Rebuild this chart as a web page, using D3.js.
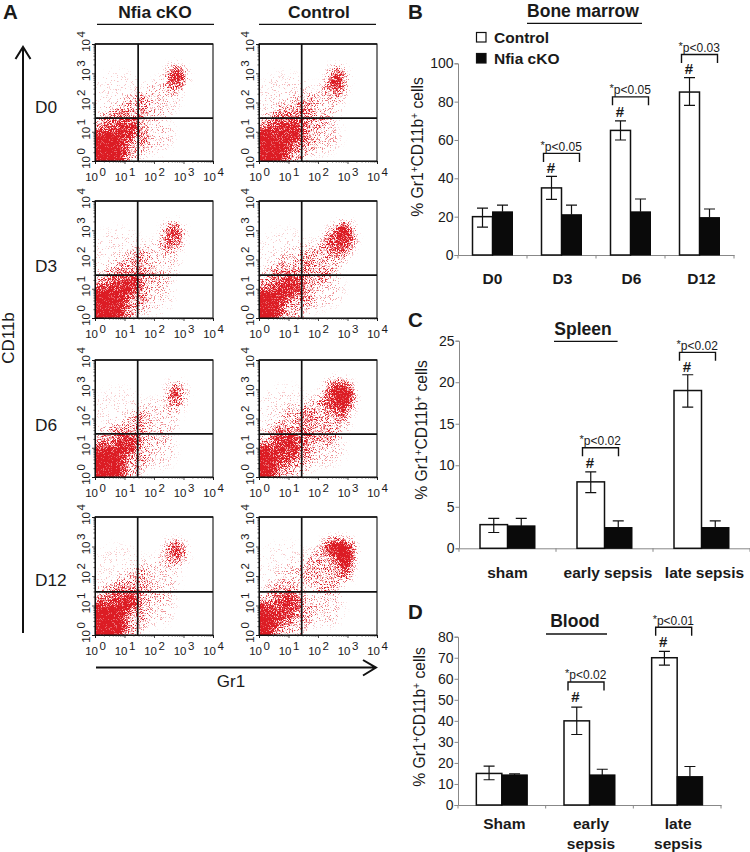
<!DOCTYPE html>
<html><head><meta charset="utf-8">
<script src="https://cdn.jsdelivr.net/npm/d3@7/dist/d3.min.js"></script>
<style>
html,body{margin:0;padding:0;background:#fff}
svg{display:block}
text{font-family:"Liberation Sans",Arial,sans-serif;fill:#1a1a1a}
</style></head><body>
<svg id="c" width="750" height="852" xmlns="http://www.w3.org/2000/svg"></svg>
<script>
/* ---------- Panel A: flow cytometry. Density regions:
   [log10 Gr1, log10 CD11b, radius Gr1, radius CD11b, tilt deg, density] */
const days = ["D0","D3","D6","D12"];
const groups = ["Nfia cKO","Control"];
const gateNfia = [[29,29],[28,29],[28,30],[28,29]];       // [Gr1, CD11b] gates
const gateControl = [[28,29],[28,29],[28,29],[28,29]];
const logTicks = [1,10,100,1000,10000];
const minorTicks = [2,3,4,5,6,7,8,9,20,30,40,50,60,70,80,90,200,300,400,500,600,700,800,900,2000,3000,4000,5000,6000,7000,8000,9000];

const densD0Nfia = [[0.2,0.25,0.85,0.85,0,1],[1,0.95,0.5,0.32,40,0.8],[0.75,0.7,1.05,1,0,0.45],[1.15,1.6,0.85,0.55,45,0.3],[0.8,2.1,1,1,0,0.16],[2.1,0.9,0.6,0.65,0,0.27],[2.15,2.1,0.85,0.65,40,0.3],[2.75,2.85,0.36,0.48,0,0.7],[2.8,2.9,0.22,0.3,0,0.6]];
const densD3Nfia = [[0.2,0.25,0.85,0.85,0,1],[1.05,1,0.5,0.32,40,0.8],[0.75,0.7,1.05,1,0,0.45],[1.15,1.6,0.85,0.55,45,0.33],[0.8,2.1,1,1,0,0.17],[2.05,0.85,0.6,0.7,0,0.28],[2.1,1.9,0.8,0.75,50,0.3],[2.65,2.8,0.38,0.52,0,0.7],[2.65,3,0.22,0.22,0,0.6]];
const densD6Nfia = [[0.2,0.25,0.82,0.85,0,1],[1,1,0.5,0.32,40,0.78],[0.75,0.7,1.05,1,0,0.45],[1.15,1.55,0.85,0.5,45,0.3],[0.8,2.1,1,1,0,0.15],[2.15,0.9,0.62,0.62,0,0.26],[2.1,1.9,0.8,0.75,50,0.27],[2.75,2.8,0.35,0.5,0,0.62],[2.75,2.85,0.2,0.22,0,0.45]];
const densD12Nfia = [[0.2,0.25,0.85,0.85,0,1],[1,1,0.5,0.32,40,0.8],[0.75,0.7,1.05,1,0,0.45],[1.15,1.55,0.85,0.5,45,0.32],[0.8,2.1,1,1,0,0.15],[2.1,0.9,0.62,0.62,0,0.26],[2.1,1.9,0.8,0.75,50,0.28],[2.72,2.8,0.38,0.46,25,0.68],[2.85,2.95,0.2,0.24,0,0.5]];
const densD0Control = [[0.15,0.25,0.8,0.88,0,1],[0.9,0.8,0.62,0.42,40,0.82],[0.75,0.7,1.1,1,0,0.45],[1.05,1.55,0.95,0.48,35,0.36],[0.9,2.1,0.95,0.95,0,0.18],[2.05,0.9,0.75,0.68,0,0.32],[2.1,1.9,0.85,0.65,40,0.3],[2.65,2.72,0.36,0.55,0,0.7],[2.6,2.85,0.2,0.28,0,0.65]];
const densD3Control = [[0.12,0.25,0.65,0.8,0,1],[0.95,0.95,0.6,0.36,40,0.8],[0.75,0.7,1.1,1,0,0.43],[1,1.6,0.85,0.55,50,0.3],[0.9,2.2,0.95,0.9,0,0.15],[2.1,0.95,0.8,0.65,0,0.26],[2.2,2,0.95,0.65,45,0.42],[2.75,2.65,0.5,0.55,30,0.66],[2.95,2.95,0.28,0.38,20,0.95]];
const densD6Control = [[0.1,0.3,0.5,0.8,0,1],[0.9,0.9,0.66,0.45,40,0.72],[0.75,0.7,1.1,1,0,0.42],[1.05,1.7,0.85,0.6,50,0.3],[0.9,2.2,0.95,0.95,0,0.17],[2.15,0.95,0.8,0.6,0,0.27],[2.25,2,0.95,0.8,45,0.46],[2.7,2.75,0.52,0.65,25,0.7],[2.9,2.85,0.34,0.48,20,1]];
const densD12Control = [[0.08,0.35,0.45,0.78,0,1],[0.85,0.85,0.66,0.46,40,0.66],[0.75,0.7,1.1,1,0,0.4],[1.05,1.75,0.85,0.55,45,0.22],[0.9,2.3,0.95,0.9,0,0.14],[2.25,0.95,0.62,0.68,0,0.3],[2.25,2.2,0.7,0.8,20,0.46],[2.62,2.98,0.48,0.3,-5,1],[2.9,2.8,0.36,0.5,0,1],[2.98,2.3,0.18,0.45,0,1]];
const densNfia = [densD0Nfia,densD3Nfia,densD6Nfia,densD12Nfia];
const densControl = [densD0Control,densD3Control,densD6Control,densD12Control];

/* ---------- Panels B, C, D */
const bmCats = ["D0","D3","D6","D12"];
const bmControl = [20,35,65,85];
const bmControlLo = [14.5,29,60,78];
const bmControlHi = [24.5,41,70,92.5];
const bmCko = [22.5,21,22.5,19.5];
const bmCkoHi = [26,26,29.2,24];
const bmBracketCat = ["D3","D6","D12"];
const bmBracketTop = [53,82.5,104.6];
const bmP = ["p<0.05","p<0.05","p<0.03"];

const spCats = ["sham","early sepsis","late sepsis"];
const spControl = [2.85,8,19];
const spControlLo = [1.9,6.7,17];
const spControlHi = [3.6,9.2,20.9];
const spCko = [2.7,2.5,2.5];
const spCkoHi = [3.6,3.3,3.3];
const spBracketCat = ["early sepsis","late sepsis"];
const spBracketTop = [12.1,23.6];
const spP = ["p<0.02","p<0.02"];

const blCats = ["Sham","early|sepsis","late|sepsis"];
const blControl = [15,40,70];
const blControlLo = [12,33.5,66.5];
const blControlHi = [18.5,46.5,73];
const blCko = [14.3,14.3,13.5];
const blCkoHi = [14.8,17,18.3];
const blBracketCat = ["early|sepsis","late|sepsis"];
const blBracketTop = [58.5,84.5];
const blP = ["p<0.02","p<0.01"];

/* ---------- helpers */
const RED = "#dc1c24";
const svg = d3.select("#c");
const defs = svg.append("defs");

const f = defs.append("filter").attr("id","stipple")
  .attr("x","-5%").attr("y","-5%").attr("width","110%").attr("height","110%")
  .attr("color-interpolation-filters","sRGB");
f.append("feGaussianBlur").attr("in","SourceGraphic").attr("stdDeviation",5).attr("result","b0");
f.append("feComponentTransfer").attr("in","b0").attr("result","blob")
  .append("feFuncA").attr("type","gamma").attr("amplitude",1).attr("exponent",1.22).attr("offset",0);
f.append("feTurbulence").attr("type","fractalNoise").attr("baseFrequency",1.37).attr("numOctaves",1).attr("seed",4).attr("result","raw");
f.append("feColorMatrix").attr("in","raw").attr("type","matrix")
  .attr("values","0 0 0 0 1  0 0 0 0 1  0 0 0 0 1  3 0 0 0 -1").attr("result","noise");
f.append("feComposite").attr("in","blob").attr("in2","noise").attr("operator","arithmetic")
  .attr("k1",0).attr("k2",1.35).attr("k3",1).attr("k4",-1).attr("result","sum");
f.append("feComponentTransfer").attr("in","sum").attr("result","mask")
  .append("feFuncA").attr("type","linear").attr("slope",1.9).attr("intercept",0);
f.append("feFlood").attr("flood-color",RED).attr("result","red");
f.append("feComposite").attr("in","red").attr("in2","mask").attr("operator","in").attr("result","dots");
f.append("feGaussianBlur").attr("in","dots").attr("stdDeviation",0.35);

function txt(g,x,y,s,o={}){
  const t=g.append("text").attr("x",x).attr("y",y).text(s)
    .attr("font-size",o.size||14).attr("text-anchor",o.anchor||"middle")
    .attr("font-weight",o.bold?"bold":"normal");
  if(o.rotate!==undefined) t.attr("transform",`rotate(${o.rotate},${x},${y})`);
  return t;
}
function hline(g,x1,x2,y,w=1.4,c="#111"){g.append("line").attr("x1",x1).attr("x2",x2).attr("y1",y).attr("y2",y).attr("stroke",c).attr("stroke-width",w);}

/* ---------- Panel A */
const panelX = [[95,213],[259,377]];
const panelY = [[44,161],[201,318],[360,477],[517,635]];

function flow(col,row,dens,gate,idx){
  const [x0,x1]=panelX[col], [y0,y1]=panelY[row];
  const sx=d3.scaleLog().domain([1,1e4]).range([x0,x1]);
  const sy=d3.scaleLog().domain([1,1e4]).range([y1,y0]);
  const id=`clip${idx}`;
  defs.append("clipPath").attr("id",id).append("rect").attr("x",x0).attr("y",y0).attr("width",x1-x0).attr("height",y1-y0);
  const g=svg.append("g");
  const dg=g.append("g").attr("clip-path",`url(#${id})`).append("g").attr("filter","url(#stipple)");
  dg.selectAll("ellipse").data(dens).join("ellipse")
    .attr("cx",d=>sx(Math.pow(10,d[0]))).attr("cy",d=>sy(Math.pow(10,d[1])))
    .attr("rx",d=>sx(Math.pow(10,d[2]))-sx(1)).attr("ry",d=>sy(1)-sy(Math.pow(10,d[3])))
    .attr("transform",d=>`rotate(${-d[4]},${sx(Math.pow(10,d[0]))},${sy(Math.pow(10,d[1]))})`)
    .attr("fill",RED).attr("fill-opacity",d=>d[5]);
  // frame
  g.append("rect").attr("x",x0).attr("y",y0).attr("width",x1-x0).attr("height",y1-y0)
    .attr("fill","none").attr("stroke","#111").attr("stroke-width",1.1);
  hline(g,x0,x1,y0,1.7);
  // gates
  g.append("line").attr("x1",sx(gate[0])).attr("x2",sx(gate[0])).attr("y1",y0).attr("y2",y1).attr("stroke","#111").attr("stroke-width",1.7);
  g.append("line").attr("x1",x0).attr("x2",x1).attr("y1",sy(gate[1])).attr("y2",sy(gate[1])).attr("stroke","#111").attr("stroke-width",1.7);
  // axes through the library
  const ax=g.append("g").attr("transform",`translate(0,${y1})`);
  ax.call(d3.axisBottom(sx).tickValues(logTicks).tickSize(3).tickFormat(""));
  const ax2=g.append("g").attr("transform",`translate(0,${y1})`);
  ax2.call(d3.axisBottom(sx).tickValues(minorTicks).tickSize(1.5).tickFormat(""));
  const ay=g.append("g").attr("transform",`translate(${x0},0)`);
  ay.call(d3.axisLeft(sy).tickValues(logTicks).tickSize(3).tickFormat(""));
  const ay2=g.append("g").attr("transform",`translate(${x0},0)`);
  ay2.call(d3.axisLeft(sy).tickValues(minorTicks).tickSize(1.5).tickFormat(""));
  g.selectAll(".domain").attr("stroke","#111").attr("stroke-width",1);
  g.selectAll(".tick line").attr("stroke","#222").attr("stroke-width",0.8);
  // tick labels
  logTicks.forEach((v,i)=>{
    const tx=txt(g,sx(v)+0.5,y1+19.5,"10",{size:11.5});
    tx.append("tspan").attr("dx",1.5).attr("dy",-5).text(i);
    const ly=sy(v)-2.5, lx=x0-5;
    const ty=g.append("text").attr("transform",`translate(${lx},${ly}) rotate(-90)`).attr("text-anchor","middle")
      .attr("font-size",11.5).text("10");
    ty.append("tspan").attr("dx",1.5).attr("dy",-5).text(i);
  });
}
days.forEach((d,r)=>{
  flow(0,r,densNfia[r],gateNfia[r],`n${r}`);
  flow(1,r,densControl[r],gateControl[r],`c${r}`);
});
const dayBase=[113,272,431,586];
days.forEach((d,r)=>txt(svg,35,dayBase[r],d,{size:17.3,anchor:"start"}));
[[155,97,214],[319,259,376]].forEach((p,i)=>{
  txt(svg,p[0],18,groups[i],{size:17.4,bold:true});
  hline(svg,p[1],p[2],24.3,1.3);
});
// big arrows
const arrows=svg.append("g").attr("fill","none").attr("stroke","#111");
arrows.append("path").attr("d","M23,633V47M15.5,59L23,47L30.5,59").attr("stroke-width",2);
arrows.append("path").attr("d","M96,667.6H376M363,660L376,667.6L363,675.5").attr("stroke-width",2);
txt(svg,231,686.5,"Gr1",{size:17});
txt(svg,13.5,338,"CD11b",{size:17,rotate:-90});

/* ---------- Panels B C D */
function addTitle(g,x,base,s){
  const t=g.append("text").attr("x",x).attr("y",base).attr("text-anchor","middle").attr("font-size",15.7);
  t.append("tspan").text("% Gr1");
  t.append("tspan").attr("dy",-5).attr("font-size",10).text("+");
  t.append("tspan").attr("dy",5).text("CD11b");
  t.append("tspan").attr("dy",-5).attr("font-size",10).text("+");
  t.append("tspan").attr("dy",5).text(" cells");
  t.attr("transform",`rotate(-90,${x},${base})`);
}
function bars(c){
  const g=svg.append("g");
  const x=d3.scaleBand().domain(c.cats).range(c.xr);
  const y=d3.scaleLinear().domain([0,c.max]).range(c.yr);
  const step=x.step(), center=k=>x(k)+step/2, bw=c.bw;
  // axes
  const ya=g.append("g").attr("transform",`translate(${c.xr[0]},0)`)
    .call(d3.axisLeft(y).tickValues(c.ticks).tickSize(3.5));
  const xa=g.append("g").attr("transform",`translate(0,${c.yr[0]})`)
    .call(d3.axisBottom(x).tickValues([]).tickSizeOuter(0));
  xa.selectAll("line.bd").data(c.cats.map((k,i)=>i).concat(c.cats.length)).join("line").attr("class","bd")
    .attr("x1",i=>c.xr[0]+i*step).attr("x2",i=>c.xr[0]+i*step).attr("y1",0).attr("y2",3.5).attr("stroke","#888").attr("stroke-width",1);
  g.selectAll(".domain").attr("stroke","#888").attr("stroke-width",1);
  ya.selectAll(".tick line").attr("stroke","#888");
  ya.selectAll(".tick text").attr("font-size",14).attr("font-family",'"Liberation Sans",Arial,sans-serif').attr("x",-4.5).attr("fill","#1a1a1a");
  // bars
  const rows=c.cats.map((k,i)=>({k,ctrl:c.ctrl[i],lo:c.lo[i],hi:c.hi[i],cko:c.cko[i],ckoHi:c.ckoHi[i]}));
  const bar=g.selectAll("g.b").data(rows).join("g").attr("class","b");
  bar.append("rect").attr("x",d=>center(d.k)-bw).attr("width",bw).attr("y",d=>y(d.ctrl)).attr("height",d=>y(0)-y(d.ctrl))
    .attr("fill","#fff").attr("stroke","#111").attr("stroke-width",1.5);
  bar.append("rect").attr("x",d=>center(d.k)).attr("width",bw).attr("y",d=>y(d.cko)).attr("height",d=>y(0)-y(d.cko))
    .attr("fill","#0a0a0a").attr("stroke","#0a0a0a").attr("stroke-width",1);
  bar.append("path").attr("fill","none").attr("stroke","#111").attr("stroke-width",1.2)
    .attr("d",d=>{const m=center(d.k)-bw/2;return `M${m},${y(d.lo)}V${y(d.hi)}M${m-5.5},${y(d.lo)}H${m+5.5}M${m-5.5},${y(d.hi)}H${m+5.5}`;});
  bar.append("path").attr("fill","none").attr("stroke","#111").attr("stroke-width",1.2)
    .attr("d",d=>{const m=center(d.k)+bw/2;return `M${m},${y(d.cko)}V${y(d.ckoHi)}M${m-5.5},${y(d.ckoHi)}H${m+5.5}`;});
  // brackets
  c.bCat.forEach((k,i)=>{
    const m=center(k)+c.bShift, t=y(c.bTop[i]), b=t+8.5;
    g.append("path").attr("fill","none").attr("stroke","#111").attr("stroke-width",1.4)
      .attr("d",`M${m-18},${b}V${t}H${m+18}V${b}`);
    const tx=g.append("text").attr("x",m-21).attr("y",t-2.5).attr("font-size",12);
    tx.append("tspan").attr("dy",-2).attr("font-size",11).text("*");
    tx.append("tspan").attr("dy",2).text(c.bP[i]);
    txt(g,m-10.5,b+11.5,"#",{size:15,bold:true});
  });
  // category labels
  c.cats.forEach((k,i)=>{
    const parts=k.split("|");
    parts.forEach((p,j)=>txt(g,center(k)+c.labelShift[i],c.labelY+j*19.5,p,{size:15.5,bold:true}));
  });
  addTitle(g,c.titleX,c.titleY);
  txt(g,c.head[0],c.head[1],c.name,{size:17.5,bold:true});
  hline(g,c.rule[0],c.rule[1],c.rule[2],1.3);
}
bars({cats:bmCats,xr:[458,734],yr:[255,63.3],max:100,ticks:[0,20,40,60,80,100],bw:20,
  ctrl:bmControl,lo:bmControlLo,hi:bmControlHi,cko:bmCko,ckoHi:bmCkoHi,
  bCat:bmBracketCat,bTop:bmBracketTop,bP:bmP,bShift:0,labelShift:[0,1,1,2],labelY:284,
  titleX:423,titleY:147,name:"Bone marrow",head:[583,17],rule:[527,642,23.3]});
bars({cats:spCats,xr:[459,750],yr:[548.3,340.7],max:25,ticks:[0,5,10,15,20,25],bw:27.5,
  ctrl:spControl,lo:spControlLo,hi:spControlHi,cko:spCko,ckoHi:spCkoHi,
  bCat:spBracketCat,bTop:spBracketTop,bP:spP,bShift:-4,labelShift:[0,3.5,3],labelY:578,
  titleX:427,titleY:430,name:"Spleen",head:[583,335],rule:[554,617.6,341.3]});
bars({cats:blCats,xr:[458,721],yr:[805,636.7],max:80,ticks:[0,10,20,30,40,50,60,70,80],bw:25.5,
  ctrl:blControl,lo:blControlLo,hi:blControlHi,cko:blCko,ckoHi:blCkoHi,
  bCat:blBracketCat,bTop:blBracketTop,bP:blP,bShift:-3.5,labelShift:[2.5,1.5,1],labelY:829,
  titleX:425,titleY:717,name:"Blood",head:[575,627],rule:[546,607,634]});

/* legend */
const legend=[["Control","#fff"],["Nfia cKO","#0a0a0a"]];
legend.forEach((l,i)=>{
  svg.append("rect").attr("x",476.5).attr("y",32.5+i*21).attr("width",9.5).attr("height",9.5).attr("fill",l[1]).attr("stroke","#111").attr("stroke-width",1.2);
  txt(svg,494,42.8+i*21.3,l[0],{size:15.5,bold:true,anchor:"start"});
});
/* panel letters */
[["A",3,19],["B",408,19],["C",408,327],["D",408,619]].forEach(p=>txt(svg,p[1],p[2],p[0],{size:20.5,bold:true,anchor:"start"}));
</script>
</body></html>
